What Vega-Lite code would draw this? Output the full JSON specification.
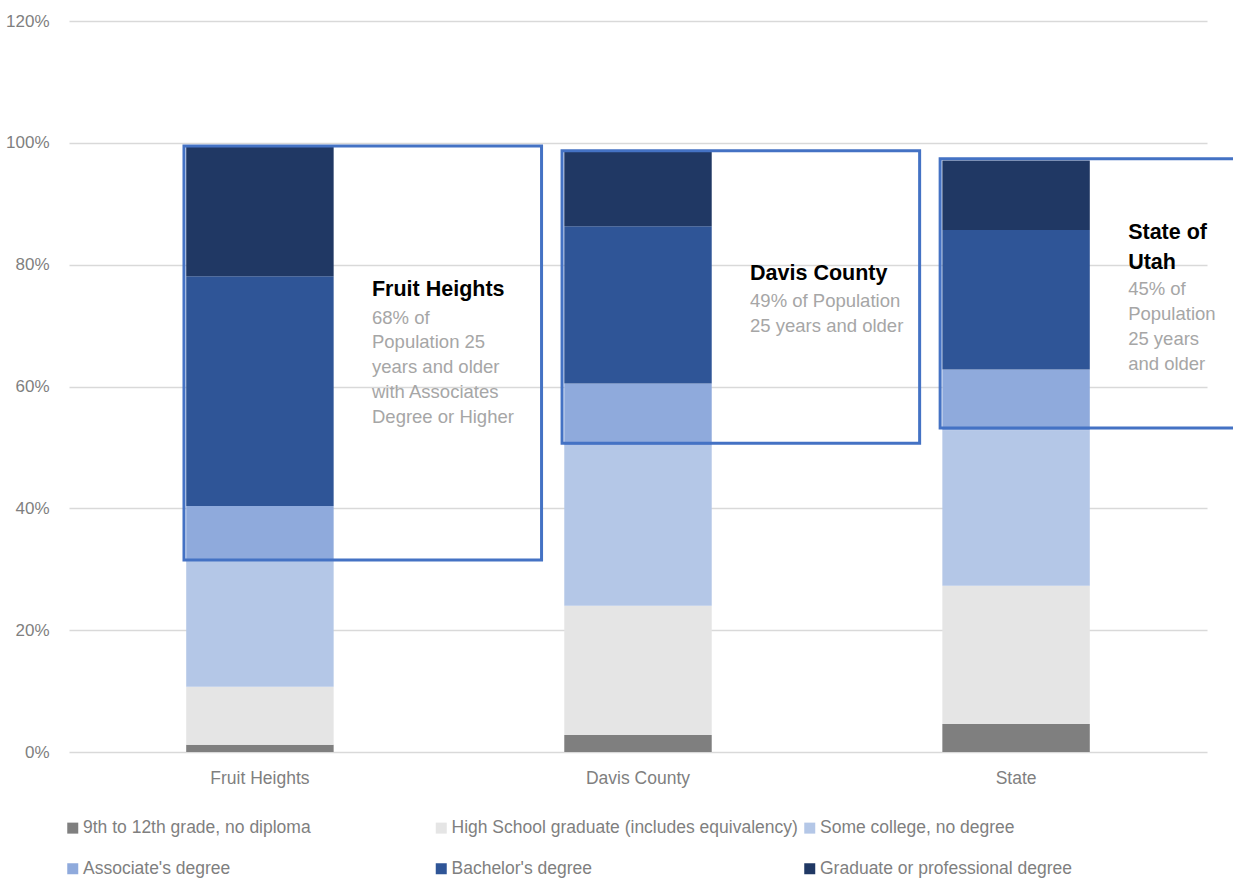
{
  "$schema": "https://vega.github.io/schema/vega-lite/v6.json",
  "autosize": {"type": "none"},
  "width": 1138,
  "height": 731,
  "padding": {"left": 69, "top": 21, "right": 26, "bottom": 126},
  "background": "white",
  "config": {
    "view": {"stroke": null},
    "font": "Liberation Sans",
    "axis": {"labelFont": "Liberation Sans", "labelColor": "#7F7F7F"},
    "legend": {"labelFont": "Liberation Sans"}
  },
  "datasets": {
    "edu": [
      {"area": "Fruit Heights", "level": 1, "education": "9th to 12th grade, no diploma", "pct": 1.2},
      {"area": "Fruit Heights", "level": 2, "education": "High School graduate (includes equivalency)", "pct": 9.5},
      {"area": "Fruit Heights", "level": 3, "education": "Some college, no degree", "pct": 20.6},
      {"area": "Fruit Heights", "level": 4, "education": "Associate's degree", "pct": 9.1},
      {"area": "Fruit Heights", "level": 5, "education": "Bachelor's degree", "pct": 37.7},
      {"area": "Fruit Heights", "level": 6, "education": "Graduate or professional degree", "pct": 21.3},
      {"area": "Davis County", "level": 1, "education": "9th to 12th grade, no diploma", "pct": 2.8},
      {"area": "Davis County", "level": 2, "education": "High School graduate (includes equivalency)", "pct": 21.2},
      {"area": "Davis County", "level": 3, "education": "Some college, no degree", "pct": 26.3},
      {"area": "Davis County", "level": 4, "education": "Associate's degree", "pct": 10.2},
      {"area": "Davis County", "level": 5, "education": "Bachelor's degree", "pct": 25.8},
      {"area": "Davis County", "level": 6, "education": "Graduate or professional degree", "pct": 12.2},
      {"area": "State", "level": 1, "education": "9th to 12th grade, no diploma", "pct": 4.6},
      {"area": "State", "level": 2, "education": "High School graduate (includes equivalency)", "pct": 22.7},
      {"area": "State", "level": 3, "education": "Some college, no degree", "pct": 25.5},
      {"area": "State", "level": 4, "education": "Associate's degree", "pct": 10.0},
      {"area": "State", "level": 5, "education": "Bachelor's degree", "pct": 22.9},
      {"area": "State", "level": 6, "education": "Graduate or professional degree", "pct": 11.4}
    ],
    "notes": [
      {"area": "Fruit Heights", "box_top": 99.5, "box_bottom": 31.5, "title": ["Fruit Heights"], "title_y": 74.85, "body": ["68% of", "Population 25", "years and older", "with Associates", "Degree or Higher"], "body_y": 70.33},
      {"area": "Davis County", "box_top": 98.7, "box_bottom": 50.7, "title": ["Davis County"], "title_y": 77.43, "body": ["49% of Population", "25 years and older"], "body_y": 73.05},
      {"area": "State", "box_top": 97.4, "box_bottom": 53.2, "title": ["State of", "Utah"], "title_y": 84.26, "body": ["45% of", "Population", "25 years", "and older"], "body_y": 74.97}
    ]
  },
  "layer": [
    {
      "data": {"name": "edu"},
      "mark": {"type": "bar"},
      "encoding": {
        "x": {
          "field": "area", "type": "nominal",
          "sort": ["Fruit Heights", "Davis County", "State"],
          "scale": {"paddingInner": 0.61, "paddingOuter": 0.31},
          "axis": {"title": null, "labelAngle": 0, "domain": false, "ticks": false, "labelPadding": 17, "labelFontSize": 17.5, "labelColor": "#7F7F7F"}
        },
        "y": {
          "field": "pct", "type": "quantitative", "stack": "zero",
          "scale": {"domain": [0, 120]},
          "axis": {"title": null, "values": [0, 20, 40, 60, 80, 100, 120], "labelExpr": "datum.value + '%'", "domain": false, "ticks": false, "labelPadding": 20, "labelFontSize": 17, "labelColor": "#7F7F7F", "grid": true, "gridColor": "#D9D9D9", "gridWidth": 1.5}
        },
        "order": {"field": "level", "type": "quantitative", "sort": "ascending"},
        "color": {
          "field": "education", "type": "nominal",
          "scale": {
            "domain": ["9th to 12th grade, no diploma", "High School graduate (includes equivalency)", "Some college, no degree", "Associate's degree", "Bachelor's degree", "Graduate or professional degree"],
            "range": ["#7F7F7F", "#E5E5E5", "#B4C7E7", "#8FAADC", "#2F5597", "#203864"]
          },
          "legend": {
            "title": null, "orient": "none", "legendX": -5, "legendY": 798,
            "direction": "horizontal", "columns": 3, "gridAlign": "all",
            "symbolType": "square", "symbolSize": 121, "symbolStrokeWidth": 0,
            "labelFontSize": 17.5, "labelColor": "#7F7F7F", "labelOffset": 1.5, "labelLimit": 400,
            "columnPadding": 2.5, "rowPadding": 22
          }
        }
      }
    },
    {
      "data": {"name": "notes"},
      "mark": {"type": "rect", "fill": null, "filled": false, "stroke": "#4472C4", "strokeWidth": 3, "clip": false},
      "encoding": {
        "x": {"field": "area", "type": "nominal", "sort": ["Fruit Heights", "Davis County", "State"], "bandPosition": -0.015},
        "x2": {"field": "area", "bandPosition": 2.41},
        "y": {"field": "box_top", "type": "quantitative"},
        "y2": {"field": "box_bottom"}
      }
    },
    {
      "data": {"name": "notes"},
      "mark": {"type": "text", "align": "left", "baseline": "alphabetic", "fontWeight": "bold", "fontSize": 21.5, "lineHeight": 30, "color": "#000000", "font": "Liberation Sans"},
      "encoding": {
        "x": {"field": "area", "type": "nominal", "sort": ["Fruit Heights", "Davis County", "State"], "bandPosition": 1.26},
        "y": {"field": "title_y", "type": "quantitative"},
        "text": {"field": "title"}
      }
    },
    {
      "data": {"name": "notes"},
      "mark": {"type": "text", "align": "left", "baseline": "alphabetic", "fontSize": 18.5, "lineHeight": 24.8, "color": "#A6A6A6", "font": "Liberation Sans"},
      "encoding": {
        "x": {"field": "area", "type": "nominal", "sort": ["Fruit Heights", "Davis County", "State"], "bandPosition": 1.26},
        "y": {"field": "body_y", "type": "quantitative"},
        "text": {"field": "body"}
      }
    }
  ]
}
